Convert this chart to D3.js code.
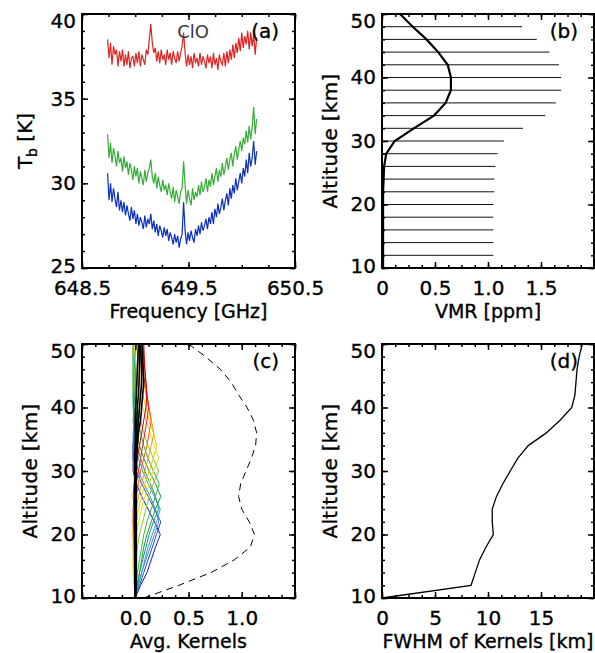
<!DOCTYPE html>
<html>
<head>
<meta charset="utf-8">
<script src="https://cdn.jsdelivr.net/npm/d3@7"></script>
<style>
  body { margin: 0; background: #fff; }
  svg text { font-family: 'DejaVu Sans', sans-serif; fill: #000; stroke: #000; stroke-width: 0.35px; }
</style>
</head>
<body>
<div id="chart"></div>
<script>
// ---- panel (a): spectra ----
const specFreq = [648.740, 648.754, 648.768, 648.782, 648.796, 648.810, 648.824, 648.838, 648.852, 648.866,
  648.880, 648.894, 648.908, 648.922, 648.936, 648.950, 648.964, 648.978, 648.992, 649.006,
  649.020, 649.034, 649.048, 649.062, 649.076, 649.090, 649.104, 649.118, 649.132, 649.146,
  649.160, 649.174, 649.188, 649.202, 649.216, 649.230, 649.244, 649.258, 649.272, 649.286,
  649.300, 649.314, 649.328, 649.342, 649.356, 649.370, 649.384, 649.398, 649.412, 649.426,
  649.440, 649.454, 649.468, 649.482, 649.496, 649.510, 649.524, 649.538, 649.552, 649.566,
  649.580, 649.594, 649.608, 649.622, 649.636, 649.650, 649.664, 649.678, 649.692, 649.706,
  649.720, 649.734, 649.748, 649.762, 649.776, 649.790, 649.804, 649.818, 649.832, 649.846,
  649.860, 649.874, 649.888, 649.902, 649.916, 649.930, 649.944, 649.958, 649.972, 649.986,
  650.000, 650.014, 650.028, 650.042, 650.056, 650.070, 650.084, 650.098, 650.112, 650.126,
  650.140]

const tbRed = [38.5, 37.4, 38.3, 37.0, 38.1, 37.6, 37.9, 36.9, 37.8, 37.2,
  37.9, 36.9, 37.6, 37.0, 37.8, 36.8, 37.4, 37.5, 36.9, 37.7,
  37.1, 37.8, 36.9, 37.6, 37.3, 37.0, 37.9, 37.6, 38.5, 39.4,
  38.3, 37.7, 38.0, 37.2, 37.8, 37.1, 37.9, 37.3, 37.6, 37.0,
  37.9, 37.3, 37.7, 37.0, 37.8, 37.4, 37.1, 37.8, 37.2, 37.7,
  38.1, 38.9, 37.7, 36.9, 37.6, 37.0, 37.5, 36.8, 37.7, 37.1,
  37.4, 36.9, 37.7, 37.0, 37.5, 37.2, 36.8, 37.6, 37.1, 37.5,
  36.8, 37.7, 37.0, 37.4, 36.7, 37.6, 37.2, 37.0, 37.7, 36.9,
  37.8, 37.1, 37.9, 37.3, 38.2, 37.4, 38.3, 37.7, 38.6, 37.8,
  38.9, 38.0, 38.7, 38.2, 39.0, 37.9, 38.9, 38.1, 38.8, 37.6,
  38.6]

const tbGreen = [32.9, 31.5, 32.4, 31.2, 32.1, 31.6, 31.0, 31.9, 31.2, 31.5,
  30.7, 31.6, 30.9, 31.3, 30.5, 31.2, 30.8, 30.2, 31.0, 30.4,
  30.9, 30.0, 30.7, 30.3, 29.9, 30.8, 30.1, 30.6, 30.9, 31.4,
  30.4, 30.0, 30.6, 29.7, 30.4, 29.9, 29.5, 30.2, 29.6, 29.9,
  29.3, 30.0, 29.5, 29.1, 29.8, 28.9, 29.6, 29.2, 28.8, 29.5,
  29.7, 31.3, 29.9, 28.8, 29.6, 29.1, 28.7, 29.7, 29.0, 29.5,
  29.2, 29.9, 29.3, 30.1, 29.5, 29.8, 30.3, 29.5, 30.2, 29.8,
  30.6, 29.9, 30.4, 30.9, 30.1, 30.8, 30.4, 31.2, 30.5, 31.0,
  31.5, 30.8, 31.4, 31.8, 31.0, 31.7, 32.2, 31.4, 32.0, 32.5,
  31.9, 32.7, 32.3, 33.1, 32.4, 33.4, 32.6, 33.3, 34.5, 32.9,
  33.8]

const tbBlue = [30.6, 29.0, 30.0, 28.9, 29.7, 29.1, 28.6, 29.5, 28.4, 29.0,
  28.3, 28.9, 28.1, 28.7, 28.2, 27.8, 28.6, 27.9, 28.4, 27.6,
  28.2, 27.5, 28.0, 27.7, 27.3, 28.1, 27.4, 27.9, 27.6, 28.2,
  27.3, 27.8, 27.1, 27.6, 26.9, 27.5, 27.2, 26.8, 27.4, 26.9,
  27.3, 26.6, 27.1, 26.8, 26.4, 27.0, 26.5, 26.9, 26.2, 26.7,
  27.0, 28.9, 27.2, 26.4, 27.1, 26.6, 27.2, 26.8, 26.5, 27.3,
  26.9, 27.5, 27.0, 27.7, 27.2, 27.5, 27.9, 27.3, 28.0, 27.6,
  28.3, 27.6, 28.5, 28.0, 28.8, 28.2, 28.6, 29.1, 28.4, 29.0,
  29.4, 28.7, 29.7, 29.1, 29.9, 29.4, 30.3, 29.6, 30.1, 30.6,
  30.0, 30.9, 30.4, 31.4, 30.6, 31.8, 31.0, 31.5, 32.5, 31.1,
  31.9]

const specColors = ['#e02222', '#36ad36', '#0a30bd']
const specTicks = [648.5, 649.5, 650.5]
const tbTicks = [25, 30, 35, 40]

// ---- shared altitude grid (km) ----
const altGrid = [10, 12, 14, 16, 18, 20, 22, 24, 26, 28, 30, 32, 34, 36, 38, 40, 42, 44, 46, 48, 50]
const altTicks = [10, 20, 30, 40, 50]

// ---- panel (b): VMR profile ----
const vmrProfile = [0.01, 0.01, 0.01, 0.01, 0.01, 0.01, 0.01, 0.015, 0.02, 0.04, 0.12,
  0.30, 0.49, 0.60, 0.65, 0.65, 0.62, 0.53, 0.42, 0.29, 0.17]
const vmrBarAlt = [12, 14, 16, 18, 20, 22, 24, 26, 28, 30, 32, 34, 36, 38, 40, 42, 44, 46, 48]
const vmrBarLen = [1.05, 1.05, 1.05, 1.05, 1.05, 1.06, 1.06, 1.07, 1.09, 1.15, 1.33,
  1.54, 1.64, 1.69, 1.69, 1.67, 1.58, 1.46, 1.32]
const vmrTicks = [0, 0.5, 1.0, 1.5]

// ---- panel (c): averaging kernels (one row per retrieval level) ----
const kernelColors = ['#0a1ec8', '#1e46dc', '#4a7ee8', '#2aa0c8', '#14967a', '#1a9a3a', '#3cb43c',
  '#8cc832', '#e6e600', '#f5c800', '#ff9600', '#ff5a00', '#e61e1e', '#c80000',
  '#000000', '#000000', '#000000', '#000000']
const kernelRows = [
  [0, 0.05, 0.11, 0.15, 0.19, 0.235, 0.18, 0.12, 0.06, 0.01, -0.02, -0.02, -0.02, -0.01, 0, 0, 0, 0, 0, 0, 0],
  [0, 0.04, 0.08, 0.12, 0.16, 0.20, 0.24, 0.18, 0.12, 0.06, 0.01, -0.02, -0.02, -0.01, -0.01, 0, 0, 0, 0, 0, 0],
  [0, 0.03, 0.06, 0.10, 0.14, 0.18, 0.22, 0.19, 0.14, 0.08, 0.03, 0.0, -0.02, -0.02, -0.01, 0, 0, 0, 0, 0, 0],
  [0, 0.03, 0.06, 0.09, 0.12, 0.16, 0.20, 0.235, 0.18, 0.12, 0.07, 0.03, 0.0, -0.01, -0.02, -0.01, -0.01, 0, 0, 0, 0],
  [0, 0.02, 0.04, 0.07, 0.10, 0.13, 0.17, 0.22, 0.19, 0.14, 0.09, 0.05, 0.02, 0.0, -0.01, -0.02, -0.02, -0.01, -0.01, 0, 0],
  [0, 0.02, 0.04, 0.06, 0.08, 0.11, 0.15, 0.19, 0.24, 0.19, 0.13, 0.08, 0.04, 0.01, 0.0, -0.01, -0.02, -0.02, -0.02, -0.02, -0.02],
  [0, 0.01, 0.02, 0.04, 0.06, 0.08, 0.11, 0.15, 0.19, 0.225, 0.17, 0.12, 0.08, 0.05, 0.02, 0.0, -0.01, -0.02, -0.02, -0.02, -0.02],
  [0, 0.0, -0.01, 0.0, 0.02, 0.04, 0.07, 0.10, 0.13, 0.17, 0.22, 0.17, 0.12, 0.08, 0.05, 0.02, 0.0, -0.01, -0.01, -0.02, -0.01],
  [0, -0.01, -0.02, -0.02, -0.01, 0.01, 0.03, 0.06, 0.09, 0.13, 0.17, 0.22, 0.18, 0.14, 0.10, 0.07, 0.04, 0.02, 0.01, 0.0, -0.01],
  [0, 0, -0.01, -0.02, -0.02, -0.01, 0.01, 0.03, 0.06, 0.09, 0.13, 0.17, 0.20, 0.17, 0.13, 0.10, 0.07, 0.05, 0.03, 0.02, 0.01],
  [0, 0, 0, -0.01, -0.02, -0.02, -0.01, 0.01, 0.03, 0.06, 0.09, 0.12, 0.15, 0.175, 0.15, 0.12, 0.10, 0.08, 0.06, 0.05, 0.04],
  [0, 0, 0, 0, -0.01, -0.02, -0.02, -0.01, 0.01, 0.03, 0.05, 0.08, 0.11, 0.13, 0.15, 0.13, 0.11, 0.09, 0.07, 0.06, 0.05],
  [0, 0, 0, 0, 0, -0.01, -0.02, -0.02, -0.01, 0.01, 0.03, 0.05, 0.07, 0.09, 0.11, 0.125, 0.11, 0.10, 0.09, 0.08, 0.07],
  [0, 0, 0, 0, 0, 0, -0.01, -0.01, -0.02, -0.01, 0.0, 0.02, 0.04, 0.06, 0.08, 0.10, 0.11, 0.10, 0.09, 0.085, 0.08],
  [0, 0.01, 0.01, 0.01, 0.01, 0.01, 0.01, 0.01, 0.01, 0.01, 0.01, 0.015, 0.02, 0.03, 0.05, 0.06, 0.07, 0.08, 0.075, 0.07, 0.065],
  [0, 0.005, 0.005, 0.005, 0.005, 0.005, 0.005, 0.005, 0.005, 0.005, 0.005, 0.005, 0.01, 0.02, 0.03, 0.04, 0.05, 0.06, 0.06, 0.055, 0.05],
  [0, 0, 0, 0, 0, 0, 0, 0, 0, 0, 0, 0, 0, 0.01, 0.015, 0.02, 0.03, 0.035, 0.04, 0.04, 0.04],
  [0, -0.005, -0.005, -0.005, -0.005, -0.005, -0.005, -0.005, -0.005, -0.005, -0.005, -0.005, 0, 0, 0, 0.005, 0.01, 0.015, 0.02, 0.025, 0.03]
]
const kernelSum = [0.08, 0.41, 0.71, 0.93, 1.08, 1.12, 1.07, 1.00, 0.97, 0.99, 1.04,
  1.09, 1.13, 1.14, 1.11, 1.05, 0.97, 0.90, 0.80, 0.66, 0.50]
const akTicks = [0.0, 0.5, 1.0]

// ---- panel (d): kernel widths ----
const fwhmKm = [0, 8.4, 8.8, 9.2, 9.8, 10.5, 10.4, 10.4, 10.8, 11.4, 12.1,
  12.8, 13.8, 15.5, 16.8, 17.9, 18.2, 18.3, 18.4, 18.6, 18.9]
const fwhmTicks = [0, 5, 10, 15]

const width = 595
const height = 653
const plotH = 254
const fontSize = 20
const titleSize = 19

const svg = d3
  .select('#chart')
  .append('svg')
  .attr('width', width)
  .attr('height', height)

function makePanel(left, top) {
  return svg.append('g').attr('transform', 'translate(' + left + ',' + top + ')')
}

function steps(lo, hi, step) {
  const n = Math.round((hi - lo) / step)
  return d3.range(0, n + 1).map(i => lo + i * step)
}

function hasTick(list, v) {
  return list.some(t => Math.abs(t - v) < 1e-6)
}

// box, inward ticks on all four sides, labels on bottom and left
function drawFrame(g, x, y, cfg) {
  const w = x.range()[1]
  const h = y.range()[0]
  const xd = x.domain()
  const yd = y.domain()
  const xMinor = steps(xd[0], xd[1], cfg.xMinor)
  const yMinor = steps(yd[0], yd[1], cfg.yMinor)
  const xMajor = steps(xd[0], xd[1], cfg.xMajor)
  const yMajor = steps(yd[0], yd[1], cfg.yMajor)

  g.append('g').attr('transform', 'translate(0,' + h + ')')
    .call(d3.axisBottom(x).tickValues(xMinor).tickSize(-3).tickSizeOuter(0).tickFormat(''))
  g.append('g')
    .call(d3.axisTop(x).tickValues(xMinor).tickSize(-3).tickSizeOuter(0).tickFormat(''))
  g.append('g')
    .call(d3.axisLeft(y).tickValues(yMinor).tickSize(-3).tickSizeOuter(0).tickFormat(''))
  g.append('g').attr('transform', 'translate(' + w + ',0)')
    .call(d3.axisRight(y).tickValues(yMinor).tickSize(-3).tickSizeOuter(0).tickFormat(''))
  g.append('g')
    .call(d3.axisTop(x).tickValues(xMajor).tickSize(-6).tickSizeOuter(0).tickFormat(''))
  g.append('g').attr('transform', 'translate(' + w + ',0)')
    .call(d3.axisRight(y).tickValues(yMajor).tickSize(-6).tickSizeOuter(0).tickFormat(''))

  g.append('g')
    .attr('class', 'x-axis')
    .attr('transform', 'translate(0,' + h + ')')
    .call(d3.axisBottom(x).tickValues(xMajor).tickSize(-6).tickSizeOuter(0).tickPadding(13)
      .tickFormat(d => (hasTick(cfg.xLabels, d) ? cfg.xFormat(d) : '')))
  g.append('g')
    .attr('class', 'y-axis')
    .call(d3.axisLeft(y).tickValues(yMajor).tickSize(-6).tickSizeOuter(0).tickPadding(6)
      .tickFormat(d => (hasTick(cfg.yLabels, d) ? String(d) : '')))

  g.selectAll('.domain').remove()
  g.selectAll('.tick line').attr('stroke', '#000').attr('stroke-width', 1.5)
  g.selectAll('.tick text')
    .attr('font-family', 'DejaVu Sans')
    .attr('font-size', fontSize)
    .attr('fill', '#000')
  // IDL pushes the top label down into the box and the bottom one slightly up
  g.select('.y-axis').selectAll('.tick text')
    .attr('dy', d => (d === yd[1] ? '0.67em' : d === yd[0] ? '0.22em' : '0.32em'))

  g.append('rect')
    .attr('width', w)
    .attr('height', h)
    .attr('fill', 'none')
    .attr('stroke', '#000')
    .attr('stroke-width', 2)

  g.append('text')
    .attr('x', w / 2)
    .attr('y', h + 50)
    .attr('text-anchor', 'middle')
    .attr('font-size', titleSize)
    .text(cfg.xTitle)

  g.append('text')
    .attr('x', w - 16)
    .attr('y', 24)
    .attr('text-anchor', 'end')
    .attr('font-size', fontSize)
    .text(cfg.tag)
}

function altTitle(g, offset) {
  g.append('text')
    .attr('transform', 'translate(' + offset + ',' + plotH / 2 + ') rotate(-90)')
    .attr('text-anchor', 'middle')
    .attr('font-size', fontSize)
    .attr('letter-spacing', 0.3)
    .text('Altitude [km]')
}

// ---------- (a) ----------
const gA = makePanel(82, 14)
const xA = d3.scaleLinear().domain([648.5, 650.5]).range([0, 213])
const yA = d3.scaleLinear().domain([25, 40]).range([plotH, 0])

const specLine = vals => d3.line().x((d, i) => xA(specFreq[i])).y(d => yA(d))(vals)

;[tbRed, tbGreen, tbBlue].forEach((vals, i) => {
  gA.append('path')
    .attr('d', specLine(vals))
    .attr('fill', 'none')
    .attr('stroke', specColors[i])
    .attr('stroke-width', 1.2)
})

gA.append('text')
  .attr('x', xA(649.45) + 10)
  .attr('y', yA(38.6))
  .attr('text-anchor', 'middle')
  .attr('font-family', 'Liberation Sans')
  .attr('font-size', 18)
  .style('fill', '#3a3a3a')
  .style('stroke', 'none')
  .text('ClO')

drawFrame(gA, xA, yA, {
  xMinor: 0.25, xMajor: 1, yMinor: 1, yMajor: 5,
  xLabels: specTicks, yLabels: tbTicks,
  xFormat: d => d.toFixed(1),
  xTitle: 'Frequency [GHz]', tag: '(a)'
})

const tbTitle = gA.append('text')
  .attr('transform', 'translate(-50,' + plotH / 2 + ') rotate(-90)')
  .attr('text-anchor', 'middle')
  .attr('font-size', fontSize)
tbTitle.append('tspan').text('T')
tbTitle.append('tspan').text('b').attr('font-size', 14).attr('dy', 5)
tbTitle.append('tspan').text(' [K]').attr('dy', -5)

// ---------- (b) ----------
const gB = makePanel(382, 14)
const xB = d3.scaleLinear().domain([0, 2]).range([0, 212])
const yB = d3.scaleLinear().domain([10, 50]).range([plotH, 0])

gB.selectAll('.bar')
  .data(vmrBarAlt)
  .enter()
  .append('line')
  .attr('x1', xB(0))
  .attr('x2', (d, i) => xB(vmrBarLen[i]))
  .attr('y1', d => yB(d))
  .attr('y2', d => yB(d))
  .attr('stroke', '#111')
  .attr('stroke-width', 1)

gB.append('path')
  .datum(vmrProfile)
  .attr('d', d3.line().x(d => xB(d)).y((d, i) => yB(altGrid[i])))
  .attr('fill', 'none')
  .attr('stroke', '#000')
  .attr('stroke-width', 2.2)

drawFrame(gB, xB, yB, {
  xMinor: 0.125, xMajor: 0.5, yMinor: 2, yMajor: 10,
  xLabels: vmrTicks, yLabels: altTicks,
  xFormat: d => (d === 0 ? '0' : d.toFixed(1)),
  xTitle: 'VMR [ppm]', tag: '(b)'
})
altTitle(gB, -45)

// ---------- (c) ----------
const gC = makePanel(82, 344)
const xC = d3.scaleLinear().domain([-0.5, 1.5]).range([0, 213])
const yC = d3.scaleLinear().domain([10, 50]).range([plotH, 0])
const profLineC = d3.line().x(d => xC(d)).y((d, i) => yC(altGrid[i]))

kernelRows.forEach((row, i) => {
  gC.append('path')
    .datum(row)
    .attr('d', profLineC)
    .attr('fill', 'none')
    .attr('stroke', kernelColors[i])
    .attr('stroke-width', kernelColors[i] === '#000000' ? 1.6 : 1)
})

gC.append('path')
  .datum(kernelSum)
  .attr('d', profLineC)
  .attr('fill', 'none')
  .attr('stroke', '#000')
  .attr('stroke-width', 1)
  .attr('stroke-dasharray', '7,5')

drawFrame(gC, xC, yC, {
  xMinor: 0.125, xMajor: 0.5, yMinor: 2, yMajor: 10,
  xLabels: akTicks, yLabels: altTicks,
  xFormat: d => d.toFixed(1),
  xTitle: 'Avg. Kernels', tag: '(c)'
})
altTitle(gC, -45)

// ---------- (d) ----------
const gD = makePanel(382, 344)
const xD = d3.scaleLinear().domain([0, 20]).range([0, 212])
const yD = d3.scaleLinear().domain([10, 50]).range([plotH, 0])

gD.append('path')
  .datum(fwhmKm)
  .attr('d', d3.line().x(d => xD(d)).y((d, i) => yD(altGrid[i])))
  .attr('fill', 'none')
  .attr('stroke', '#000')
  .attr('stroke-width', 1.3)

drawFrame(gD, xD, yD, {
  xMinor: 1.25, xMajor: 5, yMinor: 2, yMajor: 10,
  xLabels: fwhmTicks, yLabels: altTicks,
  xFormat: d => String(d),
  xTitle: 'FWHM of Kernels [km]', tag: '(d)'
})
altTitle(gD, -45)
</script>
</body>
</html>
